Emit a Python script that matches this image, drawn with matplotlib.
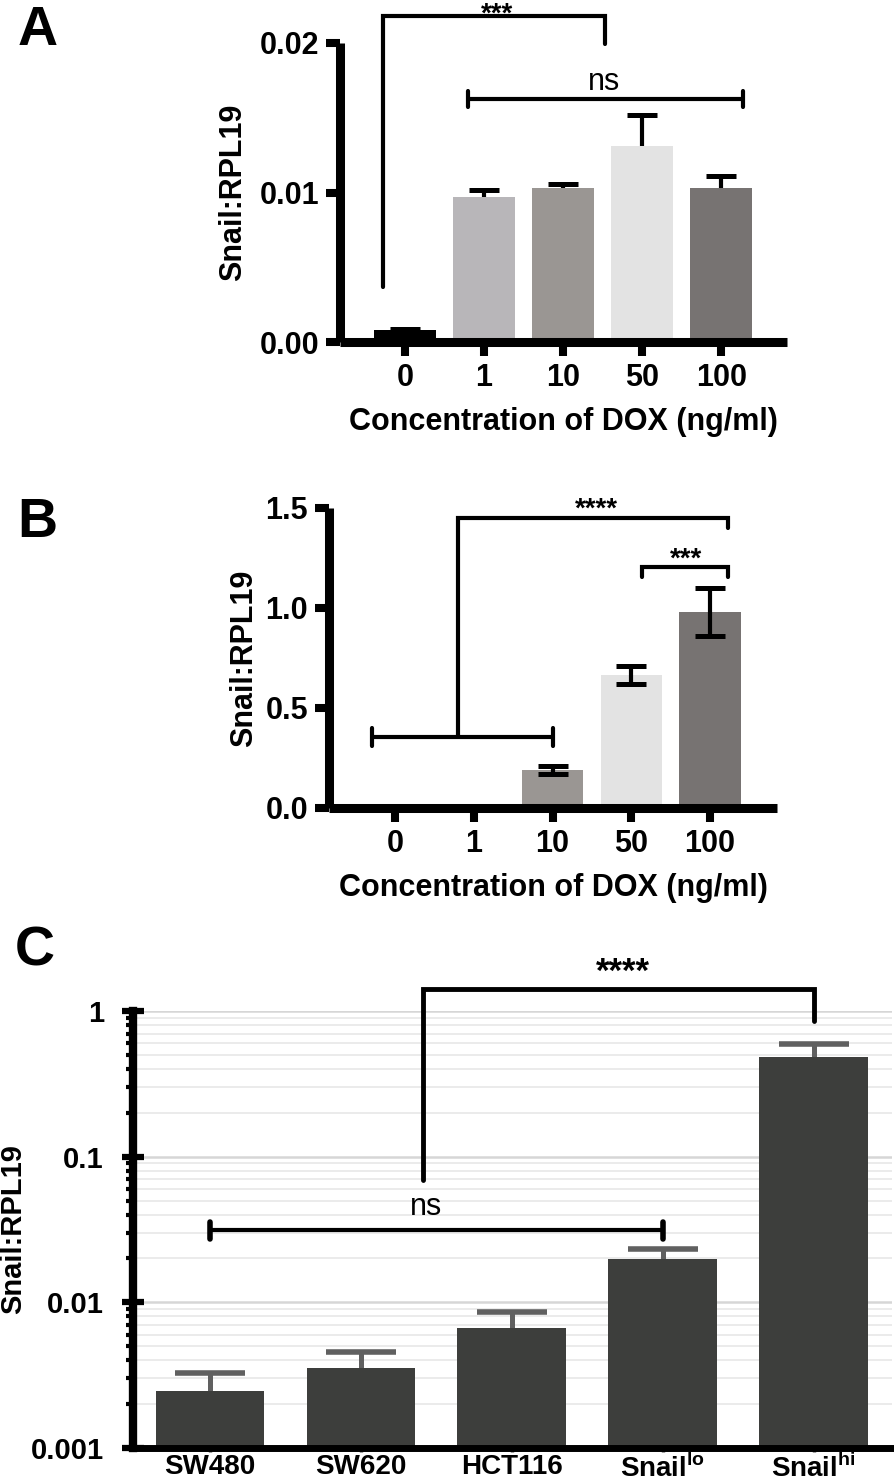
import numpy as np
import matplotlib
matplotlib.use("Agg")
import matplotlib.pyplot as plt
from matplotlib.ticker import FixedLocator, NullFormatter, LogLocator

plt.rcParams['font.family'] = ['Liberation Sans', 'DejaVu Sans']
plt.rcParams['mathtext.fontset'] = 'custom'
plt.rcParams['mathtext.rm'] = 'Liberation Sans'
plt.rcParams['mathtext.bf'] = 'Liberation Sans:bold'

# panel A / B data
dox_labels = ["0", "1", "10", "50", "100"]
a_vals = [0.0008, 0.0097, 0.0103, 0.0131, 0.0103]
a_err = [0.0001, 0.0005, 0.0003, 0.0021, 0.0008]
b_vals = [0.004, 0.004, 0.19, 0.665, 0.98]
b_err = [0.002, 0.002, 0.022, 0.045, 0.12]
dox_colors = ["#000000", "#b8b6b9", "#9a9693", "#e3e3e3", "#777372"]

# panel C data
cell_labels = ["SW480", "SW620", "HCT116", r"Snail$^{\mathbf{lo}}$", r"Snail$^{\mathbf{hi}}$"]
c_vals = [0.00246, 0.00354, 0.00667, 0.0198, 0.483]
c_upper = [0.00327, 0.00456, 0.00858, 0.0232, 0.593]

fig = plt.figure(figsize=(8.95, 14.83), dpi=100)

BOLD = dict(fontweight="bold")


def style_dose_axes(ax, ylim, yticks, yfmt, xlim, ylabel_x):
    ax.set_xlim(*xlim)
    ax.set_ylim(*ylim)
    for s in ["top", "right"]:
        ax.spines[s].set_visible(False)
    for s in ["left", "bottom"]:
        ax.spines[s].set_linewidth(6.5)
        ax.spines[s].set_capstyle("butt")
    ax.set_yticks(yticks)
    ax.set_yticklabels([yfmt.format(v) for v in yticks], fontsize=22, **BOLD)
    ax.set_xticks(range(len(dox_labels)))
    ax.set_xticklabels(dox_labels, fontsize=22, **BOLD)
    ax.tick_params(axis="both", width=5.8, length=10, pad=5)
    ax.set_ylabel("Snail:RPL19", fontsize=22, **BOLD)
    # label coords give the right edge of the rotated label
    ax.yaxis.set_label_coords(ylabel_x, 0.5)
    ax.set_xlabel("Concentration of DOX (ng/ml)", fontsize=22, labelpad=10, **BOLD)


def bracket(ax, xs, ys, lw=3.0):
    ax.plot(xs, ys, color="black", lw=lw, clip_on=False,
            solid_capstyle="round", solid_joinstyle="miter", zorder=5)


# ---------------- A ----------------
axA = fig.add_axes([340 / 895, 1 - 342 / 1483, 447 / 895, 299 / 1483])
x = np.arange(len(dox_labels))
axA.bar(x, a_vals, width=0.78, color=dox_colors, zorder=2)
axA.errorbar(x, a_vals, yerr=a_err, fmt="none", ecolor="black",
             elinewidth=3, capsize=11, capthick=3.6, zorder=1.5)
style_dose_axes(axA, (0, 0.02), [0.0, 0.01, 0.02], "{:.2f}", (-0.82, 4.83),
                (248 - 340) / 447)

bracket(axA, [-0.28, -0.28, 2.53, 2.53], [0.00367, 0.0218, 0.0218, 0.0199])
axA.text(1.16, 0.02145, "***", ha="center", va="baseline", fontsize=20,
         clip_on=False, **BOLD)
bracket(axA, [0.80, 4.28], [0.01627, 0.01627])
bracket(axA, [0.80, 0.80], [0.01572, 0.01682])
bracket(axA, [4.28, 4.28], [0.01572, 0.01682])
axA.text(2.52, 0.01685, "ns", ha="center", va="baseline", fontsize=22)

fig.text(18 / 895, 1 - 5 / 1483, "A", fontsize=40, va="top", ha="left", **BOLD)

# ---------------- B ----------------
axB = fig.add_axes([329 / 895, 1 - 808 / 1483, 448 / 895, 300 / 1483])
axB.bar(x, b_vals, width=0.78, color=dox_colors, zorder=2)
axB.errorbar(x[2:], b_vals[2:], yerr=b_err[2:], fmt="none", ecolor="black",
             elinewidth=3, capsize=11, capthick=3.6, zorder=3)
style_dose_axes(axB, (0, 1.5), [0.0, 0.5, 1.0, 1.5], "{:.1f}", (-0.84, 4.85),
                (259 - 329) / 448)

bracket(axB, [-0.29, 2.01], [0.355, 0.355])
bracket(axB, [-0.29, -0.29], [0.308, 0.402])
bracket(axB, [2.01, 2.01], [0.308, 0.402])
bracket(axB, [0.80, 0.80, 4.23, 4.23], [0.355, 1.45, 1.45, 1.40])
axB.text(2.56, 1.455, "****", ha="center", va="baseline", fontsize=20, **BOLD)
bracket(axB, [3.14, 3.14, 4.23, 4.23], [1.155, 1.205, 1.205, 1.155])
axB.text(3.70, 1.205, "***", ha="center", va="baseline", fontsize=20, **BOLD)

fig.text(17 / 895, 1 - 497 / 1483, "B", fontsize=40, va="top", ha="left", **BOLD)

# ---------------- C ----------------
axC = fig.add_axes([133 / 895, 1 - 1448 / 1483, 759 / 895, 437 / 1483])
xc = np.arange(len(cell_labels))
c_err = [u - v for u, v in zip(c_upper, c_vals)]
axC.bar(xc, c_vals, width=0.72, color="#3d3e3c", zorder=2)
axC.errorbar(xc, c_vals, yerr=c_err, fmt="none", ecolor="#606060",
             elinewidth=3.6, capsize=25, capthick=4, zorder=1.9)
axC.set_yscale("log")
axC.set_ylim(0.001, 1)
axC.set_xlim(-0.51, 4.52)
for s in ["top", "right"]:
    axC.spines[s].set_visible(False)
axC.spines["left"].set_linewidth(6)
axC.spines["bottom"].set_linewidth(5)
axC.yaxis.set_major_locator(FixedLocator([0.001, 0.01, 0.1, 1]))
axC.set_yticklabels(["0.001", "0.01", "0.1", "1"], fontsize=21, **BOLD)
axC.yaxis.set_minor_locator(LogLocator(base=10, subs=np.arange(2, 10)))
axC.yaxis.set_minor_formatter(NullFormatter())
axC.tick_params(axis="y", which="major", direction="inout", length=16, width=4.5, pad=13)
axC.tick_params(axis="y", which="minor", direction="out", length=5, width=3)
axC.grid(axis="y", which="major", color="#d6d6d6", lw=1.8, zorder=0)
axC.grid(axis="y", which="minor", color="#ebebeb", lw=1.4, zorder=0)
axC.set_axisbelow(True)
axC.set_xticks(xc)
axC.set_xticklabels(cell_labels, fontsize=20, **BOLD)
axC.tick_params(axis="x", length=3, width=2.5, color="#444444", pad=1.5)
axC.set_ylabel("Snail:RPL19", fontsize=21, **BOLD)
axC.yaxis.set_label_coords((27 - 133) / 759, 0.5)

bracket(axC, [1.41, 1.41, 4.0, 4.0], [0.069, 1.41, 1.41, 0.853], lw=3.5)
axC.text(2.74, 1.58, "****", ha="center", va="baseline", fontsize=25, **BOLD)
bracket(axC, [0.0, 3.0], [0.0313, 0.0313])
bracket(axC, [0.0, 0.0], [0.0274, 0.0358], lw=4)
bracket(axC, [3.0, 3.0], [0.0274, 0.0358], lw=4)
axC.text(1.43, 0.0397, "ns", ha="center", va="baseline", fontsize=22)

fig.text(15 / 895, 1 - 926 / 1483, "C", fontsize=40, va="top", ha="left", **BOLD)

fig.savefig("out.png", dpi=100)
